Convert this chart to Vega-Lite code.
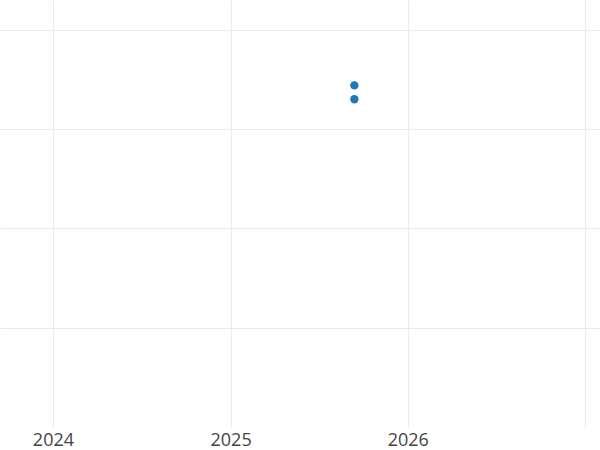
{
  "$schema": "https://vega.github.io/schema/vega-lite/v6.json",
  "width": 600,
  "height": 427,
  "autosize": {"type": "none"},
  "padding": {"top": 0, "left": 0, "right": 0, "bottom": 23},
  "background": "white",
  "config": {"view": {"stroke": null}},
  "data": {
    "values": [
      {"date": "2025-09-13", "value": 3.44},
      {"date": "2025-09-13", "value": 3.30}
    ]
  },
  "mark": {"type": "point", "filled": true, "opacity": 1, "size": 70, "color": "#1f77b4"},
  "encoding": {
    "x": {
      "field": "date",
      "type": "temporal",
      "scale": {"type": "utc", "domain": ["2023-09-14", "2027-02-01"]},
      "axis": {
        "title": null,
        "format": "%Y",
        "tickCount": "year",
        "domain": false,
        "ticks": false,
        "grid": true,
        "gridColor": "#ebebeb",
        "gridWidth": 1,
        "labelFont": "Open Sans",
        "labelFontSize": 18,
        "labelColor": "#444444",
        "labelPadding": 4,
        "labelBound": true,
        "labelFlush": false
      }
    },
    "y": {
      "field": "value",
      "type": "quantitative",
      "scale": {"domain": [0, 4.3], "nice": false, "zero": false},
      "axis": {
        "title": null,
        "values": [1, 2, 3, 4],
        "labels": false,
        "domain": false,
        "ticks": false,
        "grid": true,
        "gridColor": "#ebebeb",
        "gridWidth": 1
      }
    }
  }
}
